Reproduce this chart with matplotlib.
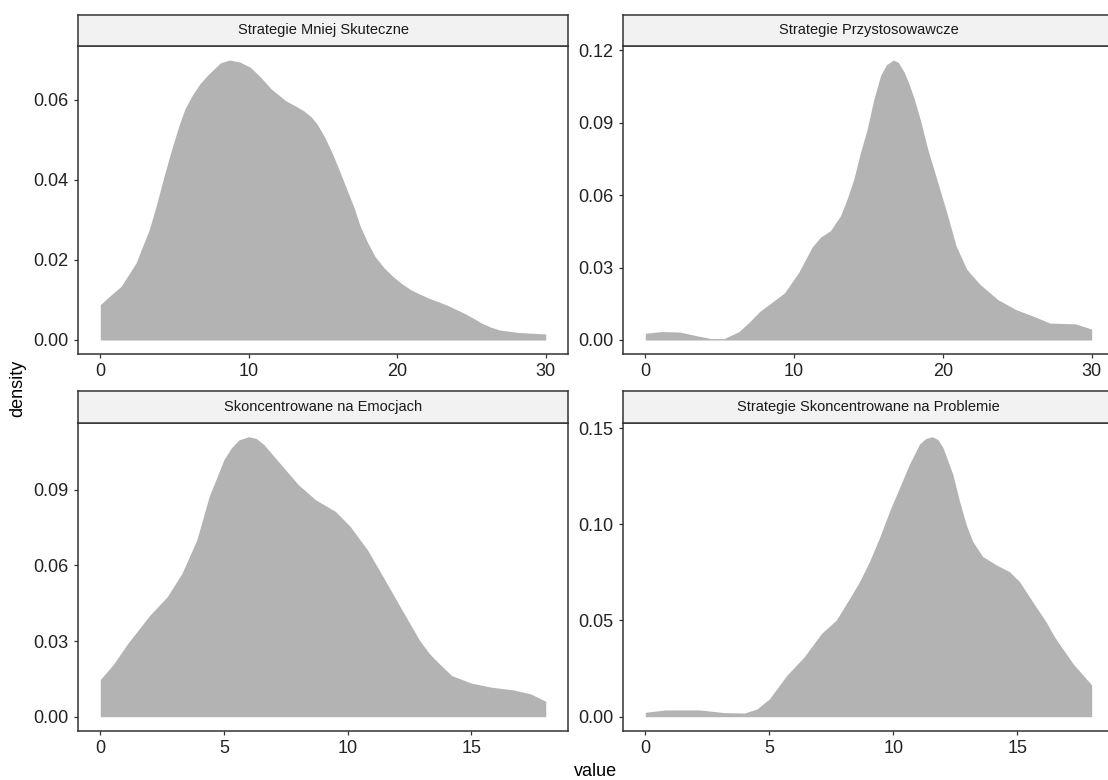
import matplotlib
matplotlib.use("Agg")
import matplotlib.pyplot as plt
from matplotlib.ticker import FormatStrFormatter

plt.rcParams['font.family'] = ['Liberation Sans', 'DejaVu Sans']

# facet titles
titles = ["Strategie Mniej Skuteczne", "Strategie Przystosowawcze",
          "Skoncentrowane na Emocjach", "Strategie Skoncentrowane na Problemie"]

# density curves (value, density)
x_mniej = [0, 0.4, 1.4, 2.4, 3.3, 3.8, 4.3, 4.8, 5.3, 5.7, 6.2, 6.7, 7.2, 7.7, 8.1, 8.7,
           9.4, 10.1, 10.8, 11.5, 12.5, 13.1, 13.7, 14.2, 14.6, 15.1, 15.6, 16.1,
           16.6, 17.1, 17.5, 18.0, 18.5, 19.1, 19.7, 20.3, 20.9, 21.5, 22.1, 23.3,
           24.5, 25.1, 25.7, 26.3, 26.9, 28.1, 30]
d_mniej = [0.0088, 0.0102, 0.0134, 0.0192, 0.0276, 0.0340, 0.0410, 0.0476, 0.0536,
           0.0578, 0.0612, 0.0640, 0.0661, 0.0679, 0.0693, 0.0700, 0.0695, 0.0682,
           0.0657, 0.0628, 0.0598, 0.0586, 0.0573, 0.0558, 0.0540, 0.0508, 0.0469,
           0.0424, 0.0377, 0.0330, 0.0285, 0.0244, 0.0209, 0.0181, 0.0159, 0.0141,
           0.0126, 0.0115, 0.0105, 0.0088, 0.0067, 0.0055, 0.0042, 0.0032, 0.0025,
           0.0019, 0.0015]

x_przyst = [0, 1.1, 2.3, 3.5, 4.4, 5.3, 6.3, 7.0, 7.7, 8.4, 9.35, 10.3, 11.2, 11.77,
            12.44, 13.12, 13.57, 14.02, 14.47, 14.92, 15.37, 15.82, 16.2, 16.68, 17.0,
            17.39, 17.7, 18.07, 18.52, 18.97, 19.65, 20.32, 20.88, 21.6, 22.5, 23.7,
            24.9, 26.1, 27.2, 28.9, 30]
d_przyst = [0.0028, 0.0035, 0.0033, 0.0017, 0.0006, 0.0006, 0.0035, 0.0075, 0.0119,
            0.0151, 0.0195, 0.0279, 0.0384, 0.0426, 0.0453, 0.0515, 0.0585, 0.0668,
            0.0779, 0.0876, 0.1000, 0.1097, 0.1140, 0.1160, 0.1150, 0.1111, 0.1065,
            0.1000, 0.0904, 0.0793, 0.0654, 0.0515, 0.0391, 0.0293, 0.0230, 0.0167,
            0.0126, 0.0098, 0.0070, 0.0067, 0.0045]

x_emocje = [0, 0.55, 1.1, 2.0, 2.7, 3.3, 3.9, 4.4, 5.0, 5.3, 5.6, 6.0, 6.3, 6.6, 7.3,
            8.0, 8.7, 9.5, 10.1, 10.8, 11.5, 12.2, 12.9, 13.3, 13.7, 14.2, 15.0,
            15.8, 16.7, 17.4, 18]
d_emocje = [0.0147, 0.0210, 0.0289, 0.0402, 0.0475, 0.0568, 0.0701, 0.0873, 0.1020,
            0.1066, 0.1097, 0.1110, 0.1103, 0.1080, 0.1000, 0.0920, 0.0860, 0.0814,
            0.0754, 0.0661, 0.0542, 0.0422, 0.0303, 0.0250, 0.0210, 0.0163, 0.0133,
            0.0117, 0.0106, 0.0090, 0.0061]

x_problem = [0, 0.8, 2.2, 3.2, 4.0, 4.5, 5.0, 5.7, 6.4, 7.1, 7.7, 8.24, 8.64, 9.04,
             9.44, 9.85, 10.25, 10.65, 11.06, 11.3, 11.57, 11.8, 12.0, 12.4, 12.67,
             12.94, 13.2, 13.6, 14.15, 14.68, 15.09, 15.62, 16.16, 16.5, 17.25, 18]
d_problem = [0.0023, 0.0035, 0.0035, 0.0021, 0.0019, 0.0040, 0.0092, 0.0214, 0.0310,
             0.0432, 0.0502, 0.0615, 0.0702, 0.0807, 0.0929, 0.1068, 0.1190, 0.1312,
             0.1417, 0.1445, 0.1455, 0.1440, 0.1399, 0.1260, 0.1120, 0.0998, 0.0911,
             0.0833, 0.0789, 0.0754, 0.0702, 0.0597, 0.0493, 0.0415, 0.0275, 0.0165]

xs = [x_mniej, x_przyst, x_emocje, x_problem]
ds = [d_mniej, d_przyst, d_emocje, d_problem]
xticks = [[0, 10, 20, 30], [0, 10, 20, 30], [0, 5, 10, 15], [0, 5, 10, 15]]
yticks = [[0, 0.02, 0.04, 0.06], [0, 0.03, 0.06, 0.09, 0.12],
          [0, 0.03, 0.06, 0.09], [0, 0.05, 0.10, 0.15]]

W, H = 1108, 780
fig = plt.figure(figsize=(W / 100, H / 100), dpi=100)

# panel boxes in pixels: left, right, strip top, plot top, plot bottom
cols = [(78, 568), (623, 1114)]
rows = [(14.7, 46, 354), (390.7, 422.7, 730.7)]

line_col = '#333333'
for i in range(4):
    (l, r), (st, pt, pb) = cols[i % 2], rows[i // 2]
    ax = fig.add_axes([l / W, 1 - pb / H, (r - l) / W, (pb - pt) / H])
    ax.fill_between(xs[i], ds[i], color='#B3B3B3', lw=0)
    xmin, xmax = min(xs[i]), max(xs[i])
    ex = 0.05 * (xmax - xmin)
    ax.set_xlim(xmin - ex, xmax + ex)
    ymax = max(ds[i])
    ax.set_ylim(-0.05 * ymax, 1.05 * ymax)
    ax.set_xticks(xticks[i])
    ax.set_yticks(yticks[i])
    ax.yaxis.set_major_formatter(FormatStrFormatter('%.2f'))
    for s in ax.spines.values():
        s.set_color(line_col)
        s.set_linewidth(1.1)
    ax.tick_params(length=3.2, width=0.9, color=line_col, labelsize=13,
                   labelcolor='#222222', pad=3.5)

    sax = fig.add_axes([l / W, 1 - pt / H, (r - l) / W, (pt - st) / H])
    sax.set_facecolor('#F2F2F2')
    sax.set_xticks([])
    sax.set_yticks([])
    for s in sax.spines.values():
        s.set_color(line_col)
        s.set_linewidth(1.1)
    sax.text(0.5, 0.5, titles[i], ha='center', va='center', fontsize=10.5,
             color='#1A1A1A', transform=sax.transAxes)

fig.text(18 / W, 1 - 388 / H, 'density', rotation=90, ha='center', va='center',
         fontsize=13, color='black')
fig.text(596 / W, 1 - 771 / H, 'value', ha='center', va='center',
         fontsize=13, color='black')

fig.savefig('out.png', dpi=100)
